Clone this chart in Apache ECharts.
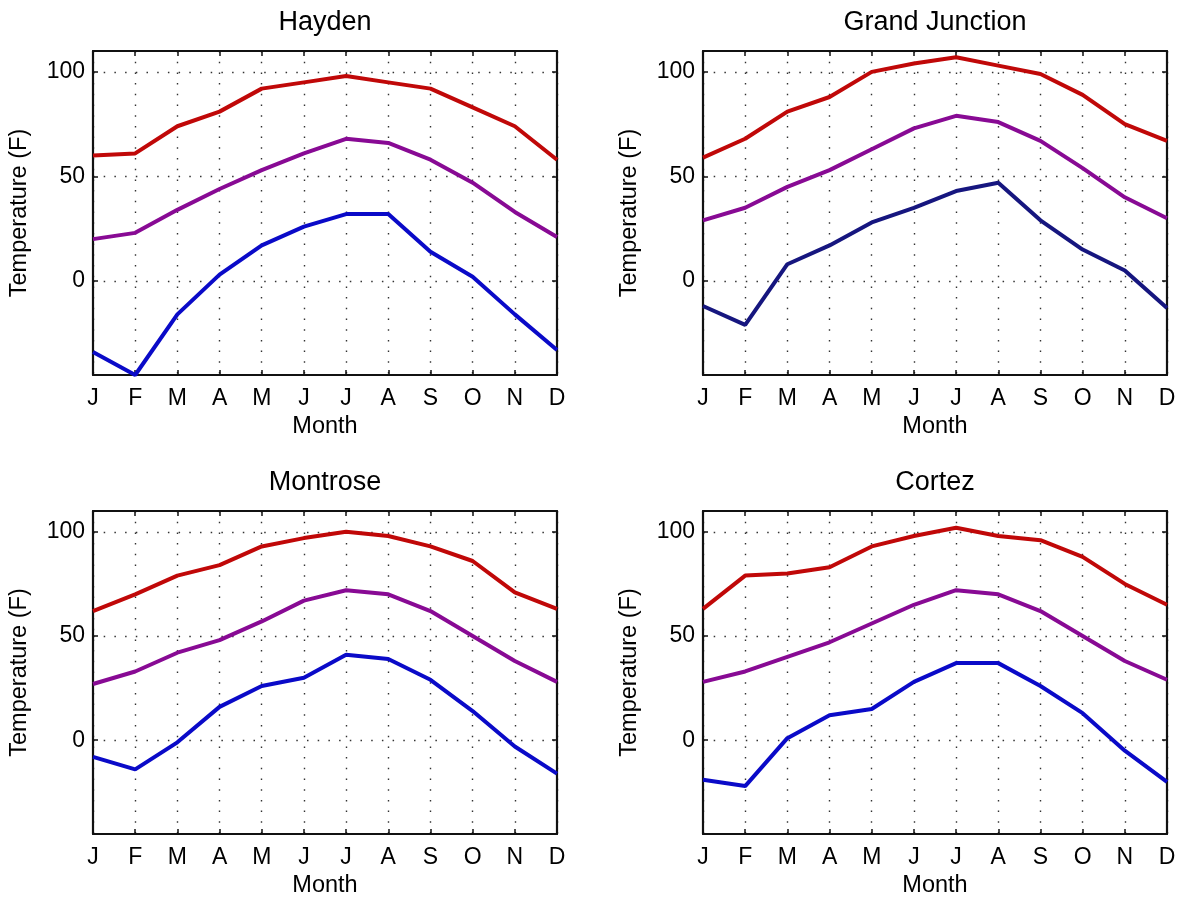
<!DOCTYPE html>
<html>
<head>
<meta charset="utf-8">
<script src="https://cdn.jsdelivr.net/npm/echarts@6/dist/echarts.min.js"></script>
<style>
  html, body { margin: 0; padding: 0; background: #fff; }
  #chart { width: 1179px; height: 897px; }
</style>
</head>
<body>
<div id="chart"></div>
<script>
  // 月份 / 刻度
  var months = ['J', 'F', 'M', 'A', 'M', 'J', 'J', 'A', 'S', 'O', 'N', 'D']
  var yTicks = [0, 50, 100]

  // Hayden
  var haydenHigh = [60, 61, 74, 81, 92, 95, 98, 95, 92, 83, 74, 58]
  var haydenMean = [20, 23, 34, 44, 53, 61, 68, 66, 58, 47, 33, 21]
  var haydenLow = [-34, -45, -16, 3, 17, 26, 32, 32, 14, 2, -16, -33]

  // Grand Junction
  var grandHigh = [59, 68, 81, 88, 100, 104, 107, 103, 99, 89, 75, 67]
  var grandMean = [29, 35, 45, 53, 63, 73, 79, 76, 67, 54, 40, 30]
  var grandLow = [-12, -21, 8, 17, 28, 35, 43, 47, 29, 15, 5, -13]

  // Montrose
  var montroseHigh = [62, 70, 79, 84, 93, 97, 100, 98, 93, 86, 71, 63]
  var montroseMean = [27, 33, 42, 48, 57, 67, 72, 70, 62, 50, 38, 28]
  var montroseLow = [-8, -14, -1, 16, 26, 30, 41, 39, 29, 14, -3, -16]

  // Cortez
  var cortezHigh = [63, 79, 80, 83, 93, 98, 102, 98, 96, 88, 75, 65]
  var cortezMean = [28, 33, 40, 47, 56, 65, 72, 70, 62, 50, 38, 29]
  var cortezLow = [-19, -22, 1, 12, 15, 28, 37, 37, 26, 13, -5, -20]

  var panels = [
    { name: 'Hayden', left: 93, top: 51, height: 324, lines: [haydenHigh, haydenMean, haydenLow], lowColor: '#0a0ac8' },
    { name: 'Grand Junction', left: 703, top: 51, height: 324, lines: [grandHigh, grandMean, grandLow], lowColor: '#16167f' },
    { name: 'Montrose', left: 93, top: 511, height: 323, lines: [montroseHigh, montroseMean, montroseLow], lowColor: '#0a0ac8' },
    { name: 'Cortez', left: 703, top: 511, height: 323, lines: [cortezHigh, cortezMean, cortezLow], lowColor: '#0a0ac8' }
  ]

  var font = 'Liberation Sans, Arial, Helvetica, sans-serif'
  var dotted = { color: '#333', width: 1.4, type: [1.5, 9.2] }
  var boxLine = { show: true, onZero: false, lineStyle: { color: '#111', width: 2.2 } }

  var option = {
    animation: false,
    backgroundColor: '#fff',
    title: [],
    grid: [],
    xAxis: [],
    yAxis: [],
    series: []
  }

  panels.forEach(function (p, i) {
    option.title.push({
      text: p.name,
      left: p.left + 232,
      top: p.top - 42,
      textAlign: 'center',
      padding: 0,
      textStyle: { fontFamily: font, fontSize: 27, fontWeight: 'normal', color: '#000' }
    })
    option.grid.push({ left: p.left, top: p.top, width: 464, height: p.height, outerBoundsMode: 'none' })

    // 下方 x 轴
    option.xAxis.push({
      type: 'category', gridIndex: i, data: months, boundaryGap: false, position: 'bottom',
      name: 'Month', nameLocation: 'middle', nameGap: 40,
      nameTextStyle: { fontFamily: font, fontSize: 23.5, color: '#000' },
      axisLine: boxLine,
      axisTick: { show: true, inside: true, length: 5, lineStyle: { color: '#111', width: 1.5 } },
      axisLabel: { fontFamily: font, fontSize: 23, color: '#000', margin: 12, interval: 0 },
      splitLine: { show: true, lineStyle: dotted }
    })
    // 上方 x 轴 (边框)
    option.xAxis.push({
      type: 'category', gridIndex: i, data: months, boundaryGap: false, position: 'top',
      axisLine: boxLine,
      axisTick: { show: true, inside: true, length: 5, lineStyle: { color: '#111', width: 1.5 } },
      axisLabel: { show: false },
      splitLine: { show: false }
    })
    // 左 y 轴
    option.yAxis.push({
      type: 'value', gridIndex: i, min: -45, max: 110, position: 'left',
      name: 'Temperature (F)', nameLocation: 'middle', nameGap: 61,
      nameTextStyle: { fontFamily: font, fontSize: 23.5, color: '#000' },
      axisLine: boxLine,
      axisTick: { show: true, inside: true, length: 5, customValues: yTicks, lineStyle: { color: '#111', width: 1.5 } },
      axisLabel: { fontFamily: font, fontSize: 23, color: '#000', margin: 8, customValues: yTicks },
      splitLine: { show: true, lineStyle: dotted }
    })
    // 右 y 轴 (边框)
    option.yAxis.push({
      type: 'value', gridIndex: i, min: -45, max: 110, position: 'right',
      axisLine: boxLine,
      axisTick: { show: true, inside: true, length: 5, customValues: yTicks, lineStyle: { color: '#111', width: 1.5 } },
      axisLabel: { show: false },
      splitLine: { show: false }
    })

    var colors = ['#c00808', '#880a94', p.lowColor]
    p.lines.forEach(function (d, k) {
      option.series.push({
        type: 'line',
        xAxisIndex: i * 2,
        yAxisIndex: i * 2,
        data: d,
        symbol: 'none',
        lineStyle: { color: colors[k], width: 4 },
        z: 3
      })
    })
  })

  var chart = echarts.init(document.getElementById('chart'))
  chart.setOption(option)
</script>
</body>
</html>
